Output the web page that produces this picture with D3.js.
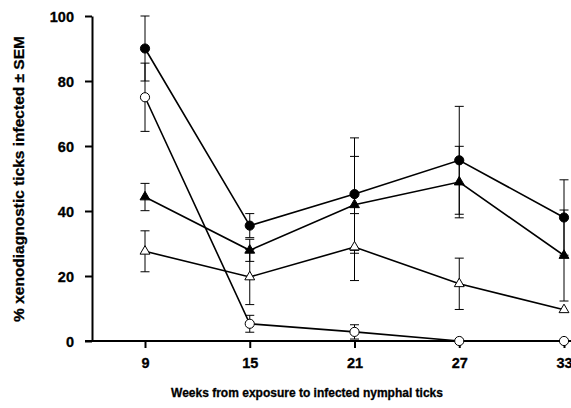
<!DOCTYPE html>
<html>
  <head>
    <style type="text/css">
      body { margin: 0; background: #fff; }
      text { font-family: "Liberation Sans", Arial, Helvetica, sans-serif; font-weight: bold; fill: #000; stroke: #000; stroke-width: 0.3px; }
      .axis text { font-size: 14.5px; }
      .axis path, .axis line { stroke: #000; }
    </style>
  </head>
  <body>
    <div id="canvas"></div>
    <script src="https://d3js.org/d3.v7.min.js"></script>
    <script type="text/javascript">

    var weeks = [9, 15, 21, 27, 33];
    var yTicks = [0, 20, 40, 60, 80, 100];

    // mean and SEM per group
    var filledCircle = [90, 35.5, 45.2, 55.6, 38.0];
    var filledCircleSem = [10, 3.7, 17.3, 16.6, 11.6];
    var filledTriangle = [44.3, 27.9, 41.9, 48.9, 26.3];
    var filledTriangleSem = [4.2, 3.4, 14.9, 11.0, 14.0];
    var openTriangle = [27.6, 19.7, 28.9, 17.6, 9.6];
    var openTriangleSem = [6.3, 8.5, 10.3, 7.9, 0];
    var openCircle = [75, 5.3, 2.8, 0, 0];
    var openCircleSem = [10.5, 2.6, 2.2, 0, 0];

    (function() {
      var width = 571, height = 408;

      var svg = d3.select('#canvas').append('svg')
                  .attr('width', width)
                  .attr('height', height);

      var x = d3.scaleLinear().domain([9, 33]).range([145, 564]);
      var y = d3.scaleLinear().domain([0, 100]).range([341, 16]);

      var groups = [
        {vals: filledCircle, sem: filledCircleSem, shape: 'circle', fill: '#000'},
        {vals: filledTriangle, sem: filledTriangleSem, shape: 'triangle', fill: '#000'},
        {vals: openTriangle, sem: openTriangleSem, shape: 'triangle', fill: '#fff'},
        {vals: openCircle, sem: openCircleSem, shape: 'circle', fill: '#fff'}
      ];

      // axes
      var yAxis = svg.append('g')
          .attr('class', 'axis')
          .attr('transform', 'translate(92,0)')
          .call(d3.axisLeft(y).tickValues(yTicks).tickSize(7).tickSizeOuter(0).tickPadding(11));
      yAxis.select('.domain').attr('stroke-width', 2);
      yAxis.selectAll('.tick line').attr('stroke-width', 2);
      yAxis.selectAll('.tick text').attr('dy', '0.4em');

      var xAxis = svg.append('g')
          .attr('class', 'axis')
          .attr('transform', 'translate(0,341)')
          .call(d3.axisBottom(x).tickValues(weeks).tickSize(7).tickSizeOuter(0).tickPadding(10));
      xAxis.select('.domain').remove();
      xAxis.selectAll('.tick line').attr('stroke-width', 2);
      svg.append('line')
          .attr('x1', 85).attr('x2', width)
          .attr('y1', 341).attr('y2', 341)
          .attr('stroke', '#000').attr('stroke-width', 2);

      // axis titles
      svg.append('text')
          .attr('transform', 'translate(24,179) rotate(-90)')
          .attr('text-anchor', 'middle')
          .style('font-size', '15.5px')
          .text('% xenodiagnostic ticks infected \u00b1 SEM');

      svg.append('text')
          .attr('x', 307).attr('y', 397)
          .attr('text-anchor', 'middle')
          .style('font-size', '12px')
          .text('Weeks from exposure to infected nymphal ticks');

      // error bars
      groups.forEach(function (g) {
        var pts = weeks.map(function (w, i) { return {w: w, v: g.vals[i], s: g.sem[i]}; })
                       .filter(function (d) { return d.s > 0; });
        var eb = svg.append('g').attr('stroke', '#000').attr('stroke-width', 1);
        eb.selectAll('line.v').data(pts).enter().append('line')
          .attr('x1', function (d) { return x(d.w); })
          .attr('x2', function (d) { return x(d.w); })
          .attr('y1', function (d) { return y(d.v + d.s); })
          .attr('y2', function (d) { return y(Math.max(0, d.v - d.s)); });
        [1, -1].forEach(function (sign) {
          eb.selectAll('line.c' + sign).data(pts).enter().append('line')
            .attr('x1', function (d) { return x(d.w) - 4.5; })
            .attr('x2', function (d) { return x(d.w) + 4.5; })
            .attr('y1', function (d) { return y(Math.max(0, d.v + sign * d.s)); })
            .attr('y2', function (d) { return y(Math.max(0, d.v + sign * d.s)); });
        });
      });

      // lines
      var line = d3.line()
          .x(function (d, i) { return x(weeks[i]); })
          .y(function (d) { return y(d); });

      groups.forEach(function (g) {
        svg.append('path')
          .datum(g.vals)
          .attr('d', line)
          .attr('fill', 'none')
          .attr('stroke', '#000')
          .attr('stroke-width', 1.6);
      });

      // markers
      var circleSym = d3.symbol().type(d3.symbolCircle).size(66);
      var triSym = d3.symbol().type(d3.symbolTriangle).size(42);

      groups.forEach(function (g) {
        svg.append('g').selectAll('path')
          .data(g.vals)
          .enter().append('path')
          .attr('d', g.shape === 'circle' ? circleSym : triSym)
          .attr('transform', function (d, i) { return 'translate(' + x(weeks[i]) + ',' + y(d) + ')'; })
          .attr('fill', g.fill)
          .attr('stroke', '#000')
          .attr('stroke-width', 1);
      });
    })();
    </script>
  </body>
</html>
